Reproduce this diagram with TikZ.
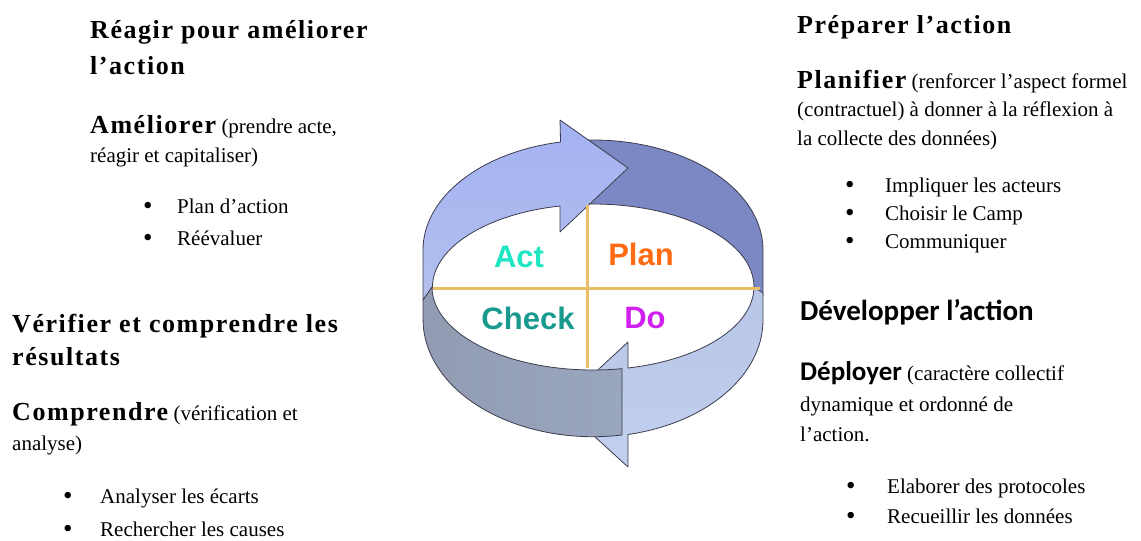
\documentclass[tikz,border=0pt]{standalone}
\usepackage{fontspec}
\setmainfont{Liberation Serif}
\newfontfamily\gras{Liberation Serif}[LetterSpace=6]
\newfontfamily\calibri{Carlito}
\newfontfamily\arial{Liberation Sans}
\definecolor{bleupale}{HTML}{A4B2F2}
\definecolor{bleupale2}{HTML}{B2BFEE}
\definecolor{bleufonce}{HTML}{7C88C4}
\definecolor{bleuclair}{HTML}{C2D0EE}
\definecolor{grisbleu}{HTML}{9AA6BE}
\definecolor{contour}{HTML}{3C3C4E}
\definecolor{ocre}{HTML}{E8BE66}
\definecolor{turquoise}{HTML}{1EE6C2}
\definecolor{orangeplan}{HTML}{FF6A12}
\definecolor{sarcelle}{HTML}{189A8E}
\definecolor{magentado}{HTML}{D020F0}
\newcommand{\motcle}[1]{{\gras\fontsize{26}{30}\selectfont\bfseries #1}}
\newcommand{\motsans}[1]{{\calibri\fontsize{27}{30}\selectfont\bfseries #1}}
\begin{document}
\begin{tikzpicture}[x=1pt,y=-1pt,
  titre/.style={anchor=base west, inner sep=0pt, font=\gras\fontsize{26}{30}\selectfont\bfseries},
  corps/.style={anchor=base west, inner sep=0pt, font=\fontsize{21}{26}\selectfont},
  puce/.style={anchor=base west, inner sep=0pt, font=\fontsize{27}{26}\selectfont},
  anneau/.style={draw=contour, line width=0.8pt, line join=round},
  croix/.style={draw=ocre, line width=3pt},
  pdca/.style={font=\arial\bfseries\fontsize{31}{34}\selectfont}]
\useasboundingbox (0,0) rectangle (1141,541);

% anneau PDCA
\draw[anneau, fill=bleufonce] (593,250) ++(268:170 and 110)
  arc[start angle=268, end angle=360, x radius=170, y radius=110] -- (763,296) -- (754,287)
  arc[start angle=0, end angle=-92, x radius=161, y radius=83] -- cycle;
\draw[anneau, top color=bleuclair!85!bleufonce, bottom color=bleuclair] (763,293) -- (763,320)
  arc[start angle=0, end angle=78.1, x radius=170, y radius=117] -- (628,467) -- (560,405)
  -- (628,342) -- (628,368)
  arc[start angle=77.4, end angle=0, x radius=161, y radius=83] -- cycle;
\draw[anneau, top color=bleupale, bottom color=bleupale2] (423,300) -- (423,250)
  arc[start angle=180, end angle=259, x radius=170, y radius=110] -- (560,120) -- (628,168)
  -- (560,232) -- (560,206)
  arc[start angle=258, end angle=180, x radius=161, y radius=83] -- cycle;
\draw[anneau, left color=grisbleu!94!black, right color=grisbleu] (432,287)
  arc[start angle=180, end angle=79.6, x radius=161, y radius=83] -- (622,435)
  arc[start angle=80.2, end angle=180, x radius=170, y radius=117] -- (423,300) -- cycle;

% croix et quadrants
\draw[croix] (433,288) -- (760,288);
\draw[croix] (587,205) -- (587,368);
\node[pdca, text=turquoise] (act) at (519,257) {Act};
\node[pdca, text=orangeplan] (plan) at (641,254) {Plan};
\node[pdca, text=sarcelle] (check) at (528,318) {Check};
\node[pdca, text=magentado] (do) at (645,318) {Do};

% Act
\node[titre] (agir1) at (90,38) {Réagir pour améliorer};
\node[titre] (agir2) at (90,74) {l’action};
\node[corps] (ameliorer1) at (90,133) {\motcle{Améliorer} (prendre acte,};
\node[corps] (ameliorer2) at (90,162) {réagir et capitaliser)};
\node[puce] (pa1) at (143,214) {•};
\node[corps] (pa2) at (177,213) {Plan d’action};
\node[puce] (re1) at (143,246) {•};
\node[corps] (re2) at (177,245) {Réévaluer};

% Check
\node[titre] (verif1) at (12,332) {Vérifier et comprendre les};
\node[titre] (verif2) at (12,365) {résultats};
\node[corps] (comp1) at (12,420) {\motcle{Comprendre} (vérification et};
\node[corps] (comp2) at (12,450) {analyse)};
\node[puce] (ec1) at (63,504) {•};
\node[corps] (ec2) at (100,503) {Analyser les écarts};
\node[puce] (ca1) at (63,537) {•};
\node[corps] (ca2) at (100,536) {Rechercher les causes};

% Plan
\node[titre] (prep) at (797,33) {Préparer l’action};
\node[corps] (plani1) at (797,88) {\motcle{Planifier} (renforcer l’aspect formel};
\node[corps] (plani2) at (797,116) {(contractuel) à donner à la réflexion à};
\node[corps] (plani3) at (797,145) {la collecte des données)};
\node[puce] (im1) at (845,193) {•};
\node[corps] (im2) at (885,192) {Impliquer les acteurs};
\node[puce] (ch1) at (845,221) {•};
\node[corps] (ch2) at (885,220) {Choisir le Camp};
\node[puce] (co1) at (845,249) {•};
\node[corps] (co2) at (885,248) {Communiquer};

% Do
\node[corps] (dev) at (800,320) {\calibri\fontsize{29}{30}\selectfont\bfseries Développer l’action};
\node[corps] (depl1) at (800,380) {\motsans{Déployer} (caractère collectif};
\node[corps] (depl2) at (800,411) {dynamique et ordonné de};
\node[corps] (depl3) at (800,441) {l’action.};
\node[puce] (el1) at (846,494) {•};
\node[corps] (el2) at (887,493) {Elaborer des protocoles};
\node[puce] (rd1) at (846,524) {•};
\node[corps] (rd2) at (887,523) {Recueillir les données};
\end{tikzpicture}
\end{document}
